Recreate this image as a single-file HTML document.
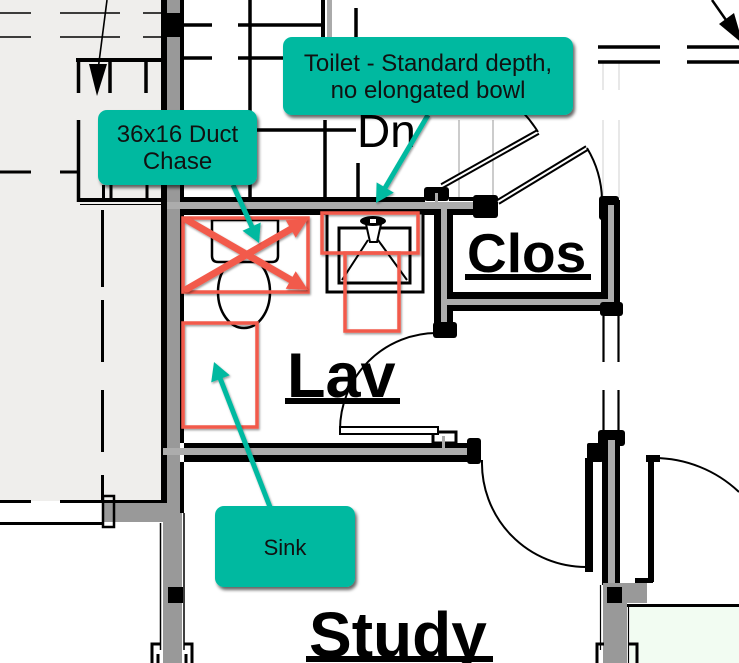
<!DOCTYPE html>
<html><head><meta charset="utf-8"><style>
html,body{margin:0;padding:0;background:#fff;}
svg{display:block;}
text{font-family:"Liberation Sans",Arial,sans-serif;}
</style></head><body>
<svg width="739" height="663" viewBox="0 0 739 663" xmlns="http://www.w3.org/2000/svg">
<defs>
<filter id="sh" x="-10%" y="-10%" width="130%" height="140%"><feDropShadow dx="2" dy="3" stdDeviation="1.5" flood-color="#000" flood-opacity="0.6"/></filter>
<filter id="sh2" x="-10%" y="-10%" width="130%" height="130%"><feDropShadow dx="1" dy="1.5" stdDeviation="1" flood-color="#000" flood-opacity="0.4"/></filter>
</defs>
<rect width="739" height="663" fill="#fff"/>
<!-- left gray area -->
<rect x="0" y="0" width="162" height="501" fill="#efeeec"/>
<g stroke="#000" fill="none">
  <path d="M0 13H31M60 13H120M143 13H162M0 37H31M60 37H120M143 37H162" stroke-width="1.6"/>
  <path d="M107 0L98 70" stroke-width="1.6"/>
  <path d="M76 60H162" stroke-width="4"/>
  <path d="M78.5 60V93M110 60V93M146 60V93M78.5 120V202" stroke-width="3.5"/>
  <path d="M0 172H31M60 172H78" stroke-width="3"/>
  <path d="M103.5 185V200M111 185V200M147 185V200" stroke-width="3"/>
  <path d="M77 200H162" stroke-width="4"/>
  <path d="M80 204.5H162" stroke-width="1"/>
  <path d="M102.5 210V287M102.5 300V362M102.5 390V452M102.5 475V500" stroke-width="3"/>
  <path d="M0 501.5H31M60 501.5H163" stroke-width="3"/>
  <path d="M0 523.5H103" stroke-width="3"/>
</g>
<polygon points="89,64 107,64 97,96" fill="#000"/>
<rect x="103" y="503" width="60" height="19" fill="#999"/>
<rect x="103" y="496" width="11" height="31" fill="none" stroke="#000" stroke-width="2.5"/>

<!-- main vertical wall -->
<rect x="161" y="0" width="6" height="503" fill="#000"/>
<rect x="167" y="0" width="13" height="663" fill="#999"/>
<rect x="163" y="503" width="19" height="160" fill="#999"/>
<rect x="180" y="0" width="4" height="443" fill="#000"/>
<rect x="180" y="462" width="4" height="51" fill="#000"/>
<rect x="161" y="13" width="23" height="24" fill="#000"/>
<path d="M160.5 523V650M184 513V650" stroke="#000" stroke-width="1.5"/>
<rect x="168" y="587" width="15" height="16" fill="#000"/>
<path d="M152 663V644H160M192 663V644H184M158 663V654M186 663V654" stroke="#000" stroke-width="3" fill="none"/>

<!-- top lines -->
<g stroke="#000" fill="none" stroke-width="3.5">
  <path d="M184 25H212M238 25H322M184 58H212M238 58H283"/>
  <path d="M250 0V200"/>
  <path d="M325 120V200"/>
  <path d="M356 8V40M358 163V200"/>
  <path d="M257 130H356"/>
  <path d="M323 0V37" stroke-width="4"/>
</g>
<rect x="327" y="0" width="5" height="37" fill="#aaa"/>
<text x="357" y="147" font-size="46" fill="#000">Dn</text>

<!-- thin gray verticals -->
<path d="M459 120V200M493 120V200" stroke="#9a9a9a" stroke-width="1"/>
<path d="M603 63V90M619 63V90M603 120V198M619 120V198" stroke="#d0d0d0" stroke-width="1"/>

<!-- top right -->
<path d="M598 47H660M687 47H739M598 62H660M687 62H739" stroke="#000" stroke-width="3.5"/>
<path d="M712 0L733 30" stroke="#000" stroke-width="2.5"/>
<polygon points="719,24 734,13 743,44" fill="#000"/>

<!-- Lav top wall -->
<rect x="184" y="197" width="241" height="5" fill="#000"/>
<rect x="167" y="202" width="308" height="7" fill="#acacac"/>
<rect x="184" y="209" width="251" height="6" fill="#000"/>
<rect x="424" y="187" width="25" height="14" fill="#000" rx="3"/>
<rect x="435" y="193" width="3" height="10" fill="#acacac"/>
<rect x="449" y="197" width="25" height="4" fill="#000"/>
<rect x="447" y="209" width="29" height="6" fill="#000"/>
<rect x="473" y="195" width="25" height="23" fill="#000" rx="3"/>

<!-- Lav right wall / Clos left -->
<rect x="434" y="209" width="7" height="114" fill="#000"/>
<rect x="441" y="202" width="6" height="128" fill="#acacac"/>
<rect x="447" y="209" width="6" height="84" fill="#000"/>
<rect x="447" y="305" width="6" height="18" fill="#000"/>
<rect x="433" y="322" width="24" height="16" fill="#000" rx="3"/>

<!-- Clos right wall -->
<rect x="599" y="196" width="20" height="24" fill="#000" rx="3"/>
<rect x="601" y="215" width="7" height="90" fill="#000"/>
<rect x="608" y="205" width="6" height="103" fill="#acacac"/>
<rect x="614" y="200" width="6" height="112" fill="#000"/>
<!-- Clos bottom -->
<rect x="447" y="292" width="161" height="7" fill="#000"/>
<rect x="441" y="299" width="173" height="6" fill="#acacac"/>
<rect x="453" y="305" width="167" height="6" fill="#000"/>
<rect x="600" y="302" width="23" height="14" fill="#000" rx="3"/>
<path d="M603.5 316V362M618.5 316V362M603.5 390V430M618.5 390V430" stroke="#000" stroke-width="2.2"/>

<!-- Clos door -->
<path d="M498 202L587 148" stroke="#000" stroke-width="6"/>
<path d="M498 202L587 148" stroke="#fff" stroke-width="2"/>
<path d="M587 148A104 104 0 0 1 602 200" stroke="#000" stroke-width="2" fill="none"/>
<!-- Dn door -->
<path d="M442 186L538 132" stroke="#000" stroke-width="6"/>
<path d="M442 186L538 132" stroke="#fff" stroke-width="2"/>
<path d="M538 132A112 112 0 0 0 498 93" stroke="#000" stroke-width="2" fill="none"/>

<text x="467" y="272" font-size="55" font-weight="bold" fill="#000">Clos</text>
<rect x="465" y="274" width="126" height="6" fill="#000"/>

<!-- Lav bottom wall -->
<rect x="184" y="443" width="284" height="5" fill="#000"/>
<rect x="163" y="448" width="307" height="7" fill="#acacac"/>
<rect x="184" y="455" width="286" height="7" fill="#000"/>
<rect x="467" y="438" width="14" height="26" fill="#000" rx="3"/>
<rect x="433" y="432" width="23" height="11" fill="#fff" stroke="#000" stroke-width="3"/>
<rect x="442" y="436" width="3" height="12" fill="#acacac"/>

<!-- Lav door -->
<path d="M437 333A97 97 0 0 0 340 430" stroke="#000" stroke-width="2" fill="none"/>
<rect x="340" y="427" width="98" height="7" fill="#fff" stroke="#000" stroke-width="2"/>

<!-- Study doors / right wall -->
<rect x="598" y="430" width="27" height="16" fill="#000" rx="3"/>
<rect x="602" y="440" width="6" height="145" fill="#000"/>
<rect x="608" y="440" width="7" height="150" fill="#aaa"/>
<rect x="615" y="440" width="5" height="145" fill="#000"/>
<rect x="587" y="443" width="16" height="19" fill="#000" rx="2"/>
<rect x="585" y="458" width="8" height="114" fill="#000"/>
<path d="M482 460A104 104 0 0 0 586 567" stroke="#000" stroke-width="2" fill="none"/>
<rect x="648" y="456" width="6" height="126" fill="#000"/>
<rect x="646" y="455" width="14" height="7" fill="#000"/>
<path d="M654 458A124 124 0 0 1 739 492" stroke="#000" stroke-width="2" fill="none"/>
<rect x="635" y="578" width="18" height="5" fill="#000"/>
<rect x="630" y="607" width="109" height="56" fill="#f2fcf2"/>
<rect x="603" y="583" width="44" height="20" fill="#999"/>
<rect x="603" y="583" width="24" height="80" fill="#999"/>
<rect x="607" y="587" width="15" height="16" fill="#000"/>
<path d="M627 605.5H739" stroke="#000" stroke-width="3"/>
<path d="M628.5 605V663M600.5 585V650" stroke="#000" stroke-width="1.2"/>
<path d="M597 663V644H604M637 663V644H628" stroke="#000" stroke-width="3" fill="none"/>

<!-- toilet fixture -->
<ellipse cx="244" cy="292" rx="26" ry="36" fill="#fff" stroke="#000" stroke-width="2.5"/>
<path d="M212 220H278V256Q278 262 272 262H218Q212 262 212 256Z" fill="#fff" stroke="#000" stroke-width="2.5"/>
<!-- sink fixture -->
<rect x="327" y="213" width="96" height="79" fill="#fff" stroke="#000" stroke-width="3"/>
<rect x="339" y="228" width="71" height="55" fill="#fff" stroke="#000" stroke-width="3"/>
<path d="M368 240L342 280M378 240L407 280" stroke="#000" stroke-width="2" fill="none"/>
<path d="M366 224L370 242H377L381 224Z" fill="#fff" stroke="#000" stroke-width="2"/>
<ellipse cx="373" cy="221" rx="13" ry="5" fill="#000"/>
<rect x="370" y="219" width="6" height="4" fill="#fff"/>

<!-- Lav label -->
<text x="287" y="397" font-size="63" font-weight="bold" fill="#000">Lav</text>
<rect x="285" y="398" width="115" height="6" fill="#000"/>

<!-- Study label -->
<text x="309" y="657" font-size="64" font-weight="bold" fill="#000">Study</text>
<rect x="306" y="656" width="187" height="6" fill="#000"/>

<!-- red annotations -->
<g filter="url(#sh2)" fill="none" stroke="#f25a4b" stroke-width="3.5">
  <rect x="183" y="218" width="125" height="74"/>
  <rect x="322" y="213" width="96" height="40"/>
  <rect x="345" y="253" width="54" height="78"/>
  <rect x="183" y="323" width="74" height="104"/>
</g>
<g filter="url(#sh2)">
  <path d="M187 220L291 280M187 289L291 229" stroke="#f25a4b" stroke-width="7" stroke-linecap="round"/>
  <polygon points="308,290 295.7,271.3 285.7,288.7" fill="#f25a4b"/>
  <polygon points="308,219 295.7,237.7 285.7,220.3" fill="#f25a4b"/>
</g>

<!-- teal connectors -->
<g filter="url(#sh2)">
  <path d="M233 185L252 227" stroke="#00b9a0" stroke-width="5"/>
  <polygon points="259,243 242.5,230.7 260.7,222.5" fill="#00b9a0"/>
  <path d="M428 115L385 188" stroke="#00b9a0" stroke-width="5"/>
  <polygon points="376,203 393.8,192.6 376.6,182.4" fill="#00b9a0"/>
  <path d="M270 507L220 378" stroke="#00b9a0" stroke-width="5"/>
  <polygon points="214,362 229.8,375.2 211.2,382.4" fill="#00b9a0"/>
</g>

<!-- callouts -->
<rect x="98" y="110" width="159" height="75" rx="9" fill="#00b9a0" filter="url(#sh)"/>
<text x="177.5" y="142" font-size="24" text-anchor="middle" fill="#111">36x16 Duct</text>
<text x="177.5" y="169" font-size="24" text-anchor="middle" fill="#111">Chase</text>

<rect x="283" y="37" width="290" height="78" rx="9" fill="#00b9a0" filter="url(#sh)"/>
<text x="428" y="71" font-size="24" text-anchor="middle" fill="#111">Toilet - Standard depth,</text>
<text x="428" y="98" font-size="24" text-anchor="middle" fill="#111">no elongated bowl</text>

<rect x="215" y="506" width="140" height="81" rx="9" fill="#00b9a0" filter="url(#sh)"/>
<text x="285" y="555" font-size="22" text-anchor="middle" fill="#111">Sink</text>
</svg>
</body></html>
